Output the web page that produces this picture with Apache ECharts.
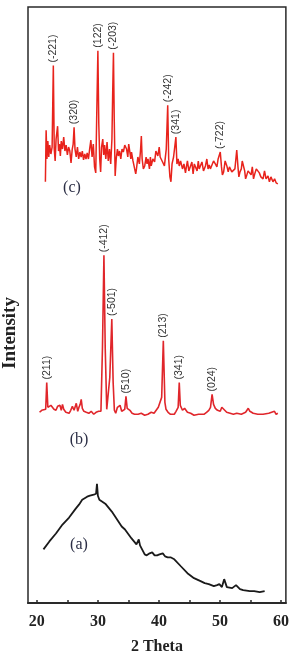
<!DOCTYPE html>
<html>
<head>
<meta charset="utf-8">
<script src="https://cdn.jsdelivr.net/npm/echarts@6/dist/echarts.min.js"></script>
<style>
	html, body { margin: 0; padding: 0; background: #fff; }
	#chart { width: 292px; height: 660px; }
</style>
</head>
<body>
<div id="chart"></div>
<script>
// x axis (2 theta, degrees)
const tickValues = [20, 25, 30, 35, 40, 45, 50, 55, 60];
const labelValues = [20, 30, 40, 50, 60];

// (a) amorphous, black trace, [2theta, intensity + offset]
const traceA = [
	[21.08, 54], [22.05, 62], [23.13, 70], [24.20, 79], [25.28, 86], [26.37, 95], [26.90, 99],
	[27.43, 104], [28.24, 107], [28.70, 108], [29.00, 107], [29.32, 109], [29.70, 110], [29.85, 120],
	[30.00, 108], [30.24, 104], [31.21, 100], [32.28, 92], [33.36, 82], [33.90, 77], [34.44, 74],
	[35.51, 65], [36.32, 59], [36.70, 64], [36.90, 58], [37.12, 57], [37.67, 49], [38.00, 48],
	[38.48, 50], [38.90, 51], [39.29, 48], [39.70, 48], [40.10, 49], [40.63, 50], [41.00, 47],
	[41.44, 46], [41.90, 46], [42.52, 44], [43.59, 37], [44.67, 30], [45.75, 25], [46.82, 22],
	[47.50, 20], [48.17, 19], [49.00, 17], [49.52, 18], [49.90, 19], [50.32, 16], [50.69, 24],
	[51.13, 16], [52.00, 15], [52.21, 16], [52.63, 18], [53.28, 14], [53.80, 13], [54.90, 12],
	[55.60, 12], [56.51, 11], [57.32, 12]
];

// (b) crystalline, red trace
const traceB = [
	[20.44, 192], [20.80, 194], [21.10, 193], [21.45, 195], [21.62, 222], [21.80, 197], [22.05, 196],
	[22.30, 199], [22.58, 201], [22.80, 195], [23.13, 194], [23.40, 198], [23.60, 200], [23.78, 199],
	[24.00, 194], [24.20, 200], [24.40, 195], [24.75, 192], [25.00, 193], [25.28, 191], [25.55, 194],
	[25.82, 198], [26.10, 194], [26.46, 201], [26.70, 193], [26.90, 197], [27.10, 200], [27.27, 205],
	[27.45, 196], [27.71, 193], [28.10, 192], [28.51, 191], [28.90, 193], [29.32, 190], [29.70, 192],
	[30.13, 193], [30.50, 193], [30.75, 257], [30.99, 350], [31.20, 257], [31.45, 195], [31.70, 195],
	[31.95, 227], [32.28, 286], [32.50, 222], [32.70, 194], [32.92, 191], [33.20, 197], [33.63, 199],
	[33.90, 193], [34.40, 195], [34.60, 208], [34.80, 196], [35.25, 194], [35.60, 191], [36.00, 190],
	[36.59, 190], [37.10, 191], [37.67, 189], [38.20, 190], [38.74, 192], [39.20, 191], [39.55, 194],
	[39.90, 197], [40.20, 195], [40.45, 207], [40.72, 264], [40.98, 202], [41.16, 195], [41.50, 192],
	[41.90, 190], [42.52, 190], [42.80, 193], [43.15, 197], [43.33, 222], [43.50, 199], [43.86, 194],
	[44.20, 196], [44.67, 192], [45.20, 191], [45.75, 189], [46.50, 190], [47.37, 190], [47.80, 192],
	[48.17, 194], [48.45, 197], [48.71, 210], [48.95, 200], [49.24, 196], [49.60, 194], [50.05, 193],
	[50.30, 197], [50.60, 195], [51.10, 192], [51.66, 191], [52.20, 190], [52.75, 191], [53.50, 190],
	[54.20, 192], [54.64, 196], [54.90, 193], [55.44, 191], [56.20, 190], [57.06, 190], [58.00, 191],
	[58.93, 193], [59.20, 190], [59.48, 191]
];

// (c) red, noisy trace
const traceC = [
	[21.40, 424], [21.52, 476], [21.65, 447], [21.80, 465], [21.95, 449], [22.10, 461], [22.30, 452],
	[22.50, 459], [22.70, 541], [22.85, 457], [23.00, 445], [23.15, 467], [23.40, 480], [23.55, 455],
	[23.70, 462], [23.85, 450], [24.00, 465], [24.20, 457], [24.40, 469], [24.60, 455], [24.80, 461],
	[25.00, 451], [25.20, 459], [25.40, 455], [25.60, 443], [25.80, 457], [25.95, 462], [26.10, 479],
	[26.25, 457], [26.45, 449], [26.65, 459], [26.85, 447], [27.05, 454], [27.25, 449], [27.45, 455],
	[27.65, 446], [27.85, 452], [28.05, 447], [28.25, 453], [28.45, 447], [28.65, 457], [28.85, 466],
	[29.05, 449], [29.25, 462], [29.45, 439], [29.65, 433], [29.80, 487], [30.00, 556], [30.15, 482],
	[30.30, 447], [30.45, 434], [30.60, 459], [30.80, 467], [30.95, 451], [31.10, 461], [31.30, 447],
	[31.50, 464], [31.70, 445], [31.90, 457], [32.10, 442], [32.30, 467], [32.42, 512], [32.55, 554],
	[32.68, 487], [32.83, 430], [33.00, 447], [33.20, 457], [33.36, 450], [33.55, 455], [33.75, 447],
	[33.95, 457], [34.17, 454], [34.40, 461], [34.70, 457], [34.90, 449], [35.05, 462], [35.25, 460],
	[35.40, 447], [35.51, 454], [35.75, 445], [36.06, 447], [36.20, 432], [36.32, 437], [36.55, 449],
	[36.80, 442], [37.00, 457], [37.12, 470], [37.25, 447], [37.45, 437], [37.67, 440], [37.90, 449],
	[38.05, 442], [38.21, 447], [38.45, 437], [38.60, 449], [38.74, 440], [39.00, 447], [39.29, 444],
	[39.50, 455], [39.82, 450], [40.05, 459], [40.20, 449], [40.36, 447], [40.60, 444], [40.90, 440],
	[41.20, 457], [41.44, 501], [41.60, 447], [41.80, 429], [41.97, 424], [42.15, 442], [42.40, 449],
	[42.60, 447], [42.78, 469], [42.95, 442], [43.15, 447], [43.33, 440], [43.55, 445], [43.86, 437],
	[44.10, 442], [44.35, 433], [44.50, 439], [44.67, 445], [44.90, 435], [45.20, 437], [45.40, 444],
	[45.60, 432], [45.80, 442], [46.01, 440], [46.25, 435], [46.45, 445], [46.60, 437], [46.82, 437],
	[47.05, 444], [47.30, 435], [47.62, 440], [47.85, 447], [48.05, 437], [48.25, 441], [48.43, 437],
	[48.70, 435], [48.95, 445], [49.24, 442], [49.50, 439], [49.70, 447], [50.05, 454], [50.25, 439],
	[50.40, 431], [50.60, 434], [50.85, 445], [51.13, 440], [51.35, 434], [51.55, 439], [51.94, 434],
	[52.20, 432], [52.45, 437], [52.75, 456], [52.95, 439], [53.10, 429], [53.28, 434], [53.50, 437],
	[53.65, 445], [53.83, 444], [54.05, 435], [54.20, 427], [54.36, 430], [54.60, 435], [54.90, 437],
	[55.10, 431], [55.30, 439], [55.50, 427], [55.70, 432], [55.95, 437], [56.25, 437], [56.45, 433],
	[56.70, 429], [56.90, 431], [57.06, 427], [57.30, 435], [57.55, 427], [57.87, 430], [58.10, 424],
	[58.35, 429], [58.68, 424], [58.95, 427], [59.20, 423], [59.48, 422]
];

// hkl labels: [text, 2theta of the peak]
const peaksB = [
	['(211)', 21.62], ['(-412)', 30.99], ['(-501)', 32.28], ['(510)', 34.60],
	['(213)', 40.72], ['(341)', 43.33], ['(024)', 48.71]
];
const peaksC = [
	['(-221)', 22.70], ['(320)', 26.10], ['(122)', 30.00], ['(-203)', 32.55],
	['(-242)', 41.44], ['(341)', 42.78], ['(-722)', 50.05]
];

const serif = '"Liberation Serif", "Times New Roman", serif';

// attach the hkl label to the data point of the peak
function withPeakLabels(trace, peaks) {
	return trace.map(p => {
		const pk = peaks.find(k => k[1] === p[0]);
		if (!pk) {
			return { value: p };
		}
		return {
			value: p,
			label: {
				show: true,
				formatter: pk[0],
				position: 'top',
				distance: 3,
				rotate: 90,
				align: 'left',
				verticalAlign: 'middle',
				fontSize: 10.5,
				fontFamily: 'Arial, "Liberation Sans", sans-serif',
				color: '#333'
			}
		};
	});
}

function lineSeries(name, data, color, width) {
	return {
		name,
		type: 'line',
		data,
		symbol: 'circle',
		symbolSize: 0,
		showSymbol: true,
		showAllSymbol: true,
		silent: true,
		animation: false,
		lineStyle: { color, width },
		itemStyle: { color }
	};
}

const chart = echarts.init(document.getElementById('chart'), null, { renderer: 'canvas' });

chart.setOption({
	animation: false,
	grid: {
		left: 28,
		right: 2,
		top: 7,
		bottom: 53,
		show: true,
		borderColor: '#2a2a2a',
		borderWidth: 1.5,
		backgroundColor: 'transparent'
	},
	xAxis: {
		type: 'value',
		min: 18.55,
		max: 60.8,
		name: '2 Theta',
		nameLocation: 'middle',
		nameGap: 36,
		nameTextStyle: { fontFamily: serif, fontWeight: 'bold', fontSize: 16, color: '#222' },
		axisLine: { show: true, lineStyle: { color: '#2a2a2a', width: 2 } },
		axisTick: { show: true, inside: true, length: 3, customValues: tickValues, lineStyle: { color: '#2a2a2a', width: 1.5 } },
		axisLabel: {
			customValues: labelValues,
			margin: 11,
			fontFamily: serif,
			fontWeight: 'bold',
			fontSize: 16,
			color: '#222'
		},
		splitLine: { show: false }
	},
	yAxis: {
		type: 'value',
		min: 0,
		max: 600,
		show: false
	},
	graphic: [
		{
			type: 'text', x: 10, y: 333, rotation: Math.PI / 2,
			style: { text: 'Intensity', font: 'bold 19px ' + serif, fill: '#222', align: 'center', verticalAlign: 'middle' }
		},
		{ type: 'text', x: 72, y: 188, style: { text: '(c)', font: '16px ' + serif, fill: '#2b2e45', align: 'center', verticalAlign: 'middle' } },
		{ type: 'text', x: 79, y: 440, style: { text: '(b)', font: '16px ' + serif, fill: '#2b2e45', align: 'center', verticalAlign: 'middle' } },
		{ type: 'text', x: 79, y: 545, style: { text: '(a)', font: '16px ' + serif, fill: '#2b2e45', align: 'center', verticalAlign: 'middle' } }
	],
	series: [
		lineSeries('a', traceA, '#1a1a1a', 1.8),
		lineSeries('b', withPeakLabels(traceB, peaksB), '#e0262b', 1.6),
		lineSeries('c', withPeakLabels(traceC, peaksC), '#e8231c', 1.5)
	]
});
</script>
</body>
</html>
